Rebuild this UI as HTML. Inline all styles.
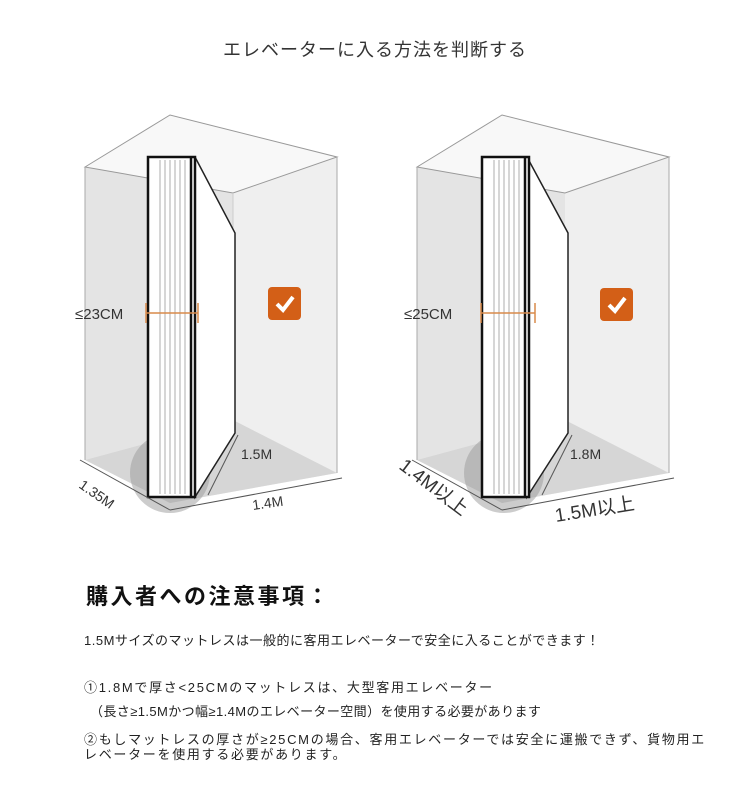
<!DOCTYPE html>
<html><head><meta charset="utf-8"><style>
body{margin:0;width:750px;height:793px;background:#fff;position:relative;overflow:hidden;font-family:"Liberation Sans","Noto Sans CJK JP",sans-serif;color:#222}
.t{position:absolute;white-space:nowrap}
</style></head><body>
<div class="t" style="left:0;width:750px;text-align:center;top:36px;font-size:18px;letter-spacing:1px;color:#333">エレベーターに入る方法を判断する</div>
<svg width="750" height="560" style="position:absolute;left:0;top:0" font-family="Liberation Sans, sans-serif">
<g id="b1">
 <polygon points="85,167 170,115 337,157 337,473 170,503 85,460" fill="#efefef"/>
 <polygon points="85,167 233,193 233,420 85,460" fill="#e4e4e4"/>
 <polygon points="85,460 233,420 337,473 170,503" fill="#d6d6d6"/>
 <polygon points="85,167 170,115 337,157 233,193" fill="#f8f8f8" stroke="#999" stroke-width="1"/>
 <line x1="85" y1="167" x2="85" y2="460" stroke="#aaa"/>
 <line x1="337" y1="157" x2="337" y2="473" stroke="#aaa"/>
 <line x1="233" y1="193" x2="233" y2="420" stroke="#ccc"/>
 <circle cx="170" cy="473" r="40" fill="#999" opacity=".5"/>
 <path d="M195,157 L235,233 L235,433 L195,497 Z" fill="#fff" stroke="#222" stroke-width="1.5"/>
 <rect x="148" y="157" width="47" height="340" fill="#fff" stroke="#111" stroke-width="2.5"/>
 <g stroke="#999" stroke-width=".8"><line x1="160" y1="160" x2="160" y2="494"/><line x1="165" y1="160" x2="165" y2="494"/><line x1="170" y1="160" x2="170" y2="494"/><line x1="175" y1="160" x2="175" y2="494"/><line x1="180" y1="160" x2="180" y2="494"/><line x1="185" y1="160" x2="185" y2="494"/></g>
 <line x1="191" y1="157" x2="191" y2="497" stroke="#111" stroke-width="2.5"/>
 <g stroke="#d98a4a" stroke-width="1.5"><line x1="146" y1="313" x2="198" y2="313"/><line x1="146" y1="303" x2="146" y2="323"/><line x1="198" y1="303" x2="198" y2="323"/></g>
 <rect x="268" y="287" width="33" height="33" rx="4" fill="#d35f17"/>
 <path d="M277,304 L283,310 L293,297" stroke="#fff" stroke-width="4" fill="none"/>
 <line x1="80" y1="460" x2="170" y2="510" stroke="#555"/><line x1="170" y1="510" x2="342" y2="478" stroke="#555"/>
 <line x1="238" y1="435" x2="208" y2="495" stroke="#555"/>
</g>
<text x="75" y="319" font-size="15" fill="#333">≤23CM</text>
<text x="241" y="459" font-size="14" fill="#333">1.5M</text>
<text x="253" y="510" font-size="14" fill="#333" transform="rotate(-8 253 510)">1.4M</text>
<text x="78" y="487" font-size="14" fill="#333" transform="rotate(35 78 487)">1.35M</text>
<g transform="translate(332,0)">
 <polygon points="85,167 170,115 337,157 337,473 170,503 85,460" fill="#efefef"/>
 <polygon points="85,167 233,193 233,420 85,460" fill="#e4e4e4"/>
 <polygon points="85,460 233,420 337,473 170,503" fill="#d6d6d6"/>
 <polygon points="85,167 170,115 337,157 233,193" fill="#f8f8f8" stroke="#999"/>
 <line x1="85" y1="167" x2="85" y2="460" stroke="#aaa"/>
 <line x1="337" y1="157" x2="337" y2="473" stroke="#aaa"/>
 <circle cx="172" cy="473" r="40" fill="#999" opacity=".5"/>
 <path d="M195,157 L236,233 L236,433 L195,497 Z" fill="#fff" stroke="#222" stroke-width="1.5"/>
 <rect x="150" y="157" width="47" height="340" fill="#fff" stroke="#111" stroke-width="2.5"/>
 <g stroke="#999" stroke-width=".8"><line x1="162" y1="160" x2="162" y2="494"/><line x1="167" y1="160" x2="167" y2="494"/><line x1="172" y1="160" x2="172" y2="494"/><line x1="177" y1="160" x2="177" y2="494"/><line x1="182" y1="160" x2="182" y2="494"/><line x1="187" y1="160" x2="187" y2="494"/></g>
 <line x1="193" y1="157" x2="193" y2="497" stroke="#111" stroke-width="2.5"/>
 <g stroke="#d98a4a" stroke-width="1.5"><line x1="149" y1="313" x2="203" y2="313"/><line x1="149" y1="303" x2="149" y2="323"/><line x1="203" y1="303" x2="203" y2="323"/></g>
 <rect x="268" y="288" width="33" height="33" rx="4" fill="#d35f17"/>
 <path d="M277,305 L283,311 L293,298" stroke="#fff" stroke-width="4" fill="none"/>
 <line x1="80" y1="460" x2="170" y2="510" stroke="#555"/><line x1="170" y1="510" x2="342" y2="478" stroke="#555"/>
 <line x1="240" y1="435" x2="210" y2="495" stroke="#555"/>
</g>
<text x="404" y="319" font-size="15" fill="#333">≤25CM</text>
<text x="570" y="459" font-size="14" fill="#333">1.8M</text>
<text x="556" y="522" font-size="19" fill="#333" transform="rotate(-9 556 522)">1.5M以上</text>
<text x="398" y="468" font-size="19" fill="#333" transform="rotate(37 398 468)">1.4M以上</text>
</svg>
<div class="t" style="left:86px;top:579px;font-size:22px;letter-spacing:2.5px;font-weight:bold;color:#111">購入者への注意事項：</div>
<div class="t" style="left:84px;top:630px;font-size:13px;letter-spacing:0.5px">1.5Mサイズのマットレスは一般的に客用エレベーターで安全に入ることができます！</div>
<div class="t" style="left:84px;top:677px;font-size:13px;letter-spacing:1.7px">①1.8Mで厚さ&lt;25CMのマットレスは、大型客用エレベーター</div>
<div class="t" style="left:90px;top:701px;font-size:13px;letter-spacing:0.4px">（長さ≥1.5Mかつ幅≥1.4Mのエレベーター空間）を使用する必要があります</div>
<div class="t" style="left:84px;top:729px;font-size:13px;letter-spacing:1.7px">②もしマットレスの厚さが≥25CMの場合、客用エレベーターでは安全に運搬できず、貨物用エ</div>
<div class="t" style="left:84px;top:744px;font-size:13px;letter-spacing:1.7px">レベーターを使用する必要があります。</div>
</body></html>
